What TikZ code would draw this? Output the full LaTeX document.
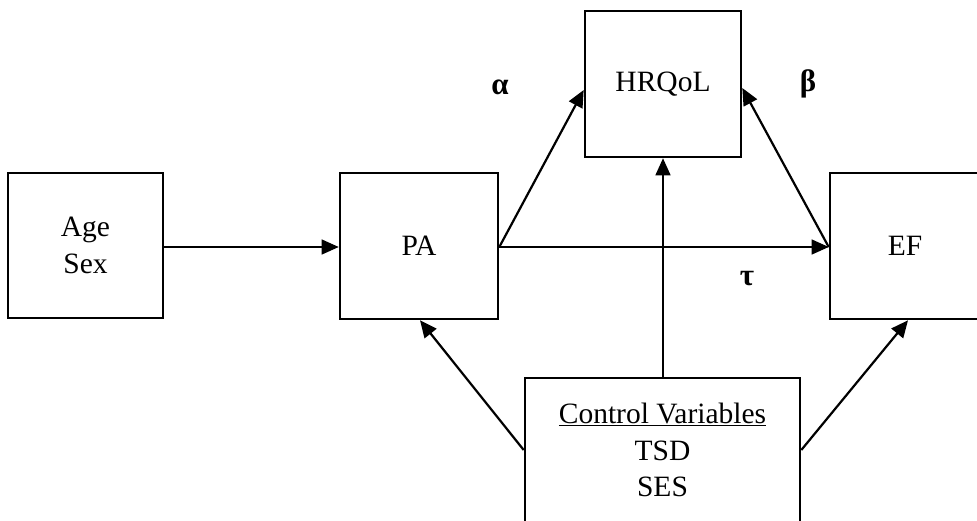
\documentclass[tikz,border=0pt]{standalone}
\usepackage{fontspec}
\setmainfont{Liberation Serif}
\usetikzlibrary{arrows.meta}
\begin{document}
\begin{tikzpicture}[x=1pt,y=-1pt,
  boxnode/.style={draw,line width=2.6pt,minimum width=158pt,minimum height=146pt,inner sep=0pt,align=center,font=\fontsize{29.5}{37}\selectfont},
  thinarrow/.style={line width=1.2pt,-{Triangle[length=17pt,width=15pt]}},
  diagarrow/.style={line width=2.2pt,-{Triangle[length=17pt,width=15pt]}},
  greek/.style={font=\fontsize{31}{36}\selectfont\bfseries}]
\useasboundingbox (0,0) rectangle (977,520);
\clip (0,0) rectangle (977,520);
\node[boxnode,minimum width=155pt,minimum height=145pt] (age) at (85.5,245.5) {Age\\Sex};
\node[boxnode] (pa) at (419,246) {PA};
\node[boxnode,minimum width=156pt] (hrq) at (663,84) {HRQoL};
\node[boxnode,minimum width=150pt] (ef) at (905,246) {EF};
\node[boxnode,minimum width=275pt,minimum height=144pt,font=\fontsize{29.5}{36.5}\selectfont] (cv) at (662.5,450) {\underline{Control Variables}\\TSD\\SES};
\draw[thinarrow] (age.east |- 0,247) -- (pa.west |- 0,247);
\draw[thinarrow] (pa.east |- 0,247) -- (ef.west |- 0,247);
\draw[diagarrow] (pa.east |- 0,247) -- ([yshift=-6pt]hrq.west);
\draw[diagarrow] (ef.west |- 0,247) -- ([yshift=-4pt]hrq.east);
\draw[thinarrow,line width=1.5pt] (cv.north -| hrq.south) -- (hrq.south);
\draw[diagarrow] (cv.west) -- ([xshift=1pt]pa.south);
\draw[diagarrow] (cv.east) -- ([xshift=3pt]ef.south);
\node[greek] (alpha) at (500,87) {α};
\node[greek] (beta) at (808,84) {β};
\node[greek] (tau) at (747,279) {τ};
\end{tikzpicture}
\end{document}
